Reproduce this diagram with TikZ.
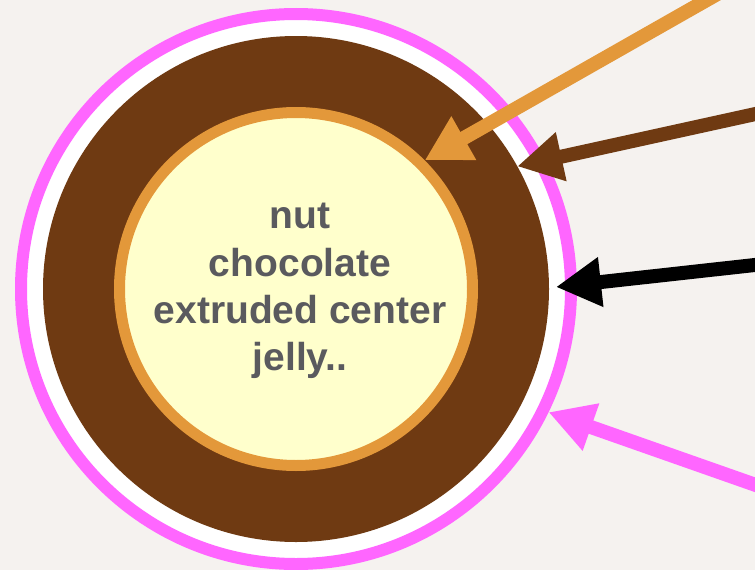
\documentclass[tikz,border=0pt]{standalone}
\usepackage{fontspec}
\setmainfont{Liberation Sans}
\usetikzlibrary{arrows.meta}
\definecolor{bg}{HTML}{F5F2EF}
\definecolor{pinkc}{HTML}{FF66FF}
\definecolor{brownc}{HTML}{6F3A12}
\definecolor{orangec}{HTML}{E3983A}
\definecolor{yellowc}{HTML}{FFFFCC}
\definecolor{textc}{HTML}{5A5A5E}
\begin{document}
\begin{tikzpicture}[x=1pt,y=-1pt,
  conn/.style={line width=14pt, -{Triangle[length=45pt,width=47pt]}},
  ring/.style={circle, inner sep=0pt, outer sep=0pt},
  lbl/.style={anchor=base, text=textc, font=\fontsize{39}{47}\selectfont\bfseries, inner sep=0pt}]
\fill[bg] (0,0) rectangle (755,570);
\useasboundingbox (0,0) rectangle (755,570);
\clip (0,0) rectangle (755,570);
\node[ring, draw=pinkc, line width=12pt, fill=white, minimum size=550pt, outer sep=6pt] (outer) at (296,289) {};
\node[ring, fill=brownc, minimum size=506pt] (choc) at (296,289) {};
\node[ring, draw=orangec, line width=11pt, fill=yellowc, minimum size=353pt, outer sep=5.5pt] (center) at (296,289) {};
\node[lbl] (l1) at (300,228) {nut};
\node[lbl] (l2) at (300,276) {chocolate};
\node[lbl] (l3) at (300,323) {extruded center};
\node[lbl] (l4) at (300,370) {jelly..};
\coordinate (oStart) at (742,-20);
\coordinate (bStart) at (780,108.6);
\coordinate (kStart) at (780,262.2);
\coordinate (kTip) at (556,287);
\coordinate (pStart) at (780,493.5);
\draw[conn, orangec] (oStart) -- (center.45);
\draw[conn, brownc] (bStart) -- (choc.29);
\draw[conn, black] (kStart) -- (kTip);
\draw[conn, pinkc] (pStart) -- (outer.-26.5);
\end{tikzpicture}
\end{document}
